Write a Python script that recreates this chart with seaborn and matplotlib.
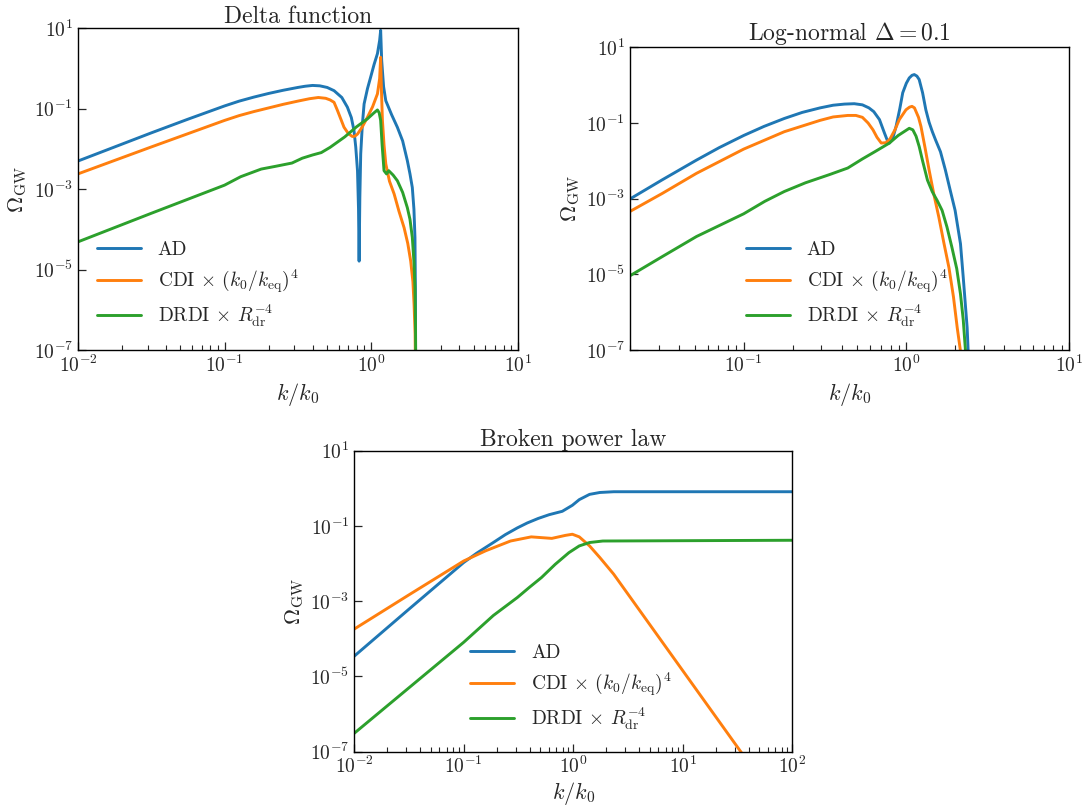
import numpy as np
import matplotlib
matplotlib.use("Agg")
import matplotlib.pyplot as plt
import matplotlib.ticker as mticker
import seaborn as sns

sns.set_style("ticks")
plt.rcParams["font.family"] = ["serif"]
plt.rcParams["font.serif"] = ["cmr10", "DejaVu Serif"]
plt.rcParams["mathtext.fontset"] = "cm"
plt.rcParams["axes.formatter.use_mathtext"] = True
plt.rcParams["axes.unicode_minus"] = False
FS_TICK = 14
FS_LEG = 14
FS_LAB = 16
FS_TITLE = 17

# ---------------- data (log10 k/k0, log10 Omega_GW) ----------------
titles = ["Delta function", r"Log-normal $\Delta = 0.1$", "Broken power law"]
labels = ["AD", r"CDI $\times$ $(k_0/k_{\rm eq})^4$", r"DRDI $\times$ $R_{\rm dr}^{-4}$"]
colors = ["#1f77b4", "#ff7f0e", "#2ca02c"]

# Delta function
delta_ad_logk = [-2.0, -1.75, -1.5, -1.25, -1.0, -0.9, -0.8, -0.7, -0.6, -0.5, -0.45, -0.40, -0.35,
                 -0.30, -0.253, -0.20, -0.162, -0.135, -0.117, -0.105, -0.093, -0.086, -0.082,
                 -0.077, -0.071, -0.06, -0.048, -0.025, -0.003, 0.02, 0.043, 0.058, 0.065, 0.072,
                 0.085, 0.10, 0.14, 0.179, 0.215, 0.247, 0.265, 0.281, 0.292, 0.299, 0.302, 0.304]
delta_ad_logo = [-2.30, -1.95, -1.60, -1.26, -0.93, -0.81, -0.71, -0.62, -0.54, -0.47, -0.44, -0.42,
                 -0.43, -0.47, -0.55, -0.72, -0.96, -1.22, -1.54, -1.95, -2.54, -3.5, -4.79,
                 -3.2, -2.12, -1.4, -0.88, -0.50, -0.21, 0.10, 0.37, 0.70, 0.95, 0.20,
                 -0.45, -0.80, -1.15, -1.46, -1.80, -2.29, -2.62, -2.96, -3.5, -4.2, -5.5, -8.0]
delta_cdi_logk = [-2.0, -1.5, -1.0, -0.9, -0.8, -0.7, -0.6, -0.5, -0.42, -0.36, -0.31, -0.28,
                  -0.253, -0.23, -0.185, -0.155, -0.128, -0.11, -0.093, -0.06, -0.025, 0.01, 0.043,
                  0.058, 0.065, 0.07, 0.077, 0.088, 0.10, 0.125, 0.157, 0.19, 0.225, 0.25, 0.27,
                  0.285, 0.293, 0.30, 0.304]
delta_cdi_logo = [-2.62, -1.95, -1.29, -1.17, -1.07, -0.98, -0.89, -0.81, -0.75, -0.72, -0.74, -0.78,
                  -0.84, -1.04, -1.46, -1.62, -1.69, -1.68, -1.63, -1.45, -1.21, -0.95, -0.63,
                  -0.25, 0.28, -0.5, -1.29, -1.9, -2.37, -2.80, -3.12, -3.55, -3.96, -4.35, -4.79,
                  -5.3, -5.87, -6.6, -8.0]
delta_drdi_logk = [-2.0, -1.5, -1.0, -0.89, -0.75, -0.65, -0.54, -0.47, -0.40, -0.34, -0.28, -0.18,
                   -0.10, -0.025, 0.02, 0.043, 0.055, 0.065, 0.075, 0.088, 0.105, 0.12, 0.15,
                   0.179, 0.215, 0.247, 0.265, 0.281, 0.292, 0.299, 0.303, 0.305]
delta_drdi_logo = [-4.31, -3.60, -2.90, -2.69, -2.50, -2.43, -2.35, -2.23, -2.15, -2.09, -1.96, -1.70,
                   -1.45, -1.25, -1.10, -1.03, -1.10, -1.29, -1.9, -2.54, -2.62, -2.54, -2.65,
                   -2.79, -3.08, -3.46, -3.75, -4.2, -4.8, -5.45, -6.5, -8.0]

# Log-normal
logn_ad_logk = [-1.70, -1.50, -1.29, -1.15, -1.0, -0.875, -0.75, -0.64, -0.53, -0.45, -0.38, -0.32,
                -0.27, -0.23, -0.20, -0.165, -0.134, -0.115, -0.104, -0.083, -0.063, -0.04, -0.022,
                0.0, 0.018, 0.035, 0.049, 0.065, 0.079, 0.10, 0.12, 0.14, 0.16, 0.18, 0.21, 0.24,
                0.27, 0.30, 0.333, 0.35, 0.374, 0.39]
logn_ad_logo = [-3.01, -2.50, -1.98, -1.65, -1.33, -1.09, -0.88, -0.72, -0.60, -0.53, -0.50, -0.49,
                -0.52, -0.60, -0.70, -0.91, -1.27, -1.48, -1.53, -1.40, -1.09, -0.62, -0.20,
                0.05, 0.19, 0.26, 0.28, 0.24, 0.15, -0.2, -0.65, -0.98, -1.23, -1.45, -1.76, -2.24,
                -2.78, -3.31, -4.19, -5.08, -6.41, -8.0]
logn_cdi_logk = [-1.70, -1.50, -1.29, -1.0, -0.75, -0.53, -0.45, -0.36, -0.31, -0.27, -0.235,
                 -0.205, -0.18, -0.154, -0.125, -0.10, -0.07, -0.043, -0.002, 0.02, 0.035, 0.05,
                 0.075, 0.09, 0.115, 0.14, 0.17, 0.20, 0.23, 0.262, 0.29, 0.313, 0.333, 0.34]
logn_cdi_logo = [-3.34, -2.86, -2.33, -1.69, -1.23, -0.93, -0.84, -0.80, -0.80, -0.85, -1.0,
                 -1.18, -1.38, -1.53, -1.52, -1.42, -1.18, -0.91, -0.65, -0.58, -0.56, -0.60,
                 -0.85, -1.09, -1.65, -2.24, -2.9, -3.49, -4.15, -4.82, -5.6, -6.41, -7.03, -8.0]
logn_drdi_logk = [-1.70, -1.50, -1.29, -1.0, -0.87, -0.75, -0.62, -0.47, -0.36, -0.27, -0.19,
                  -0.104, -0.05, 0.018, 0.04, 0.06, 0.079, 0.10, 0.13, 0.16, 0.19, 0.22, 0.25,
                  0.28, 0.31, 0.333, 0.35, 0.364, 0.37]
logn_drdi_logo = [-5.04, -4.53, -4.00, -3.40, -3.07, -2.81, -2.58, -2.36, -2.19, -1.95, -1.75,
                  -1.53, -1.33, -1.14, -1.18, -1.35, -1.62, -2.0, -2.51, -2.82, -3.05, -3.31, -3.75,
                  -4.28, -4.85, -5.52, -6.2, -7.03, -8.0]

# Broken power law
bpl_ad_logk = [-2.0, -1.5, -1.0, -0.88, -0.73, -0.62, -0.51, -0.42, -0.32, -0.22, -0.10, -0.008,
               0.055, 0.149, 0.243, 0.37, 2.0]
bpl_ad_logo = [-4.46, -3.21, -1.97, -1.72, -1.44, -1.23, -1.05, -0.92, -0.80, -0.70, -0.61, -0.45,
               -0.30, -0.16, -0.11, -0.09, -0.09]
bpl_cdi_logk = [-2.0, -1.5, -1.0, -0.8, -0.573, -0.384, -0.196, -0.071, -0.008, 0.055, 0.149, 0.243,
                0.369, 1.53, 1.60]
bpl_cdi_logo = [-3.74, -2.83, -1.93, -1.66, -1.40, -1.29, -1.33, -1.25, -1.22, -1.29, -1.53, -1.84,
                -2.28, -7.0, -7.3]
bpl_drdi_logk = [-2.0, -1.5, -1.0, -0.73, -0.51, -0.40, -0.29, -0.165, -0.04, 0.055, 0.149, 0.27, 2.0]
bpl_drdi_logo = [-6.51, -5.30, -4.09, -3.38, -2.90, -2.63, -2.37, -2.02, -1.71, -1.53, -1.44, -1.40, -1.38]

panels = [
    [(delta_ad_logk, delta_ad_logo), (delta_cdi_logk, delta_cdi_logo), (delta_drdi_logk, delta_drdi_logo)],
    [(logn_ad_logk, logn_ad_logo), (logn_cdi_logk, logn_cdi_logo), (logn_drdi_logk, logn_drdi_logo)],
    [(bpl_ad_logk, bpl_ad_logo), (bpl_cdi_logk, bpl_cdi_logo), (bpl_drdi_logk, bpl_drdi_logo)],
]
xlims = [(1e-2, 1e1), (2e-2, 1e1), (1e-2, 1e2)]
legend_anchor = [(0.0255, 0.042), (0.247, 0.045), (0.247, 0.041)]
xlabelpads = [4, 4, 2]

fig = plt.figure(figsize=(10.89, 8.05), dpi=100)
rects = [[0.0716, 0.5652, 0.4038, 0.3996],
         [0.5785, 0.5652, 0.4031, 0.3760],
         [0.3253, 0.0662, 0.4022, 0.3739]]

for i, rect in enumerate(rects):
    ax = fig.add_axes(rect)
    ax.set_xscale("log")
    ax.set_yscale("log")
    for (lk, lo), c, lab in zip(panels[i], colors, labels):
        sns.lineplot(x=10 ** np.array(lk), y=10 ** np.array(lo), ax=ax, color=c,
                     linewidth=2.1, label=lab, sort=False)
    ax.set_xlim(*xlims[i])
    ax.set_ylim(1e-7, 1e1)
    ax.yaxis.set_major_locator(mticker.FixedLocator([1e1, 1e-1, 1e-3, 1e-5, 1e-7]))
    ax.yaxis.set_minor_locator(mticker.NullLocator())
    ax.xaxis.set_major_locator(mticker.LogLocator(base=10, numticks=20))
    ax.xaxis.set_minor_locator(mticker.LogLocator(base=10, subs=np.arange(2, 10), numticks=100))
    ax.xaxis.set_minor_formatter(mticker.NullFormatter())
    ax.tick_params(which="both", direction="in", labelsize=FS_TICK, top=False, right=False)
    ax.tick_params(axis="x", which="both", pad=3)
    ax.tick_params(axis="y", which="both", pad=3.5)
    ax.tick_params(which="major", length=6, width=0.9)
    ax.tick_params(which="minor", length=3.5, width=0.8)
    for s in ax.spines.values():
        s.set_linewidth(1.0)
        s.set_color("black")
    ax.set_xlabel(r"$k/k_0$", fontsize=FS_LAB, labelpad=xlabelpads[i])
    ax.set_ylabel(r"$\Omega_{\rm GW}$", fontsize=FS_LAB, labelpad=3)
    ax.set_title(titles[i], fontsize=FS_TITLE, pad=2.5)
    ax.legend(loc="lower left", bbox_to_anchor=legend_anchor[i], borderaxespad=0,
              frameon=False, fontsize=FS_LEG, handlelength=2.27, labelspacing=0.4,
              handletextpad=0.85)

fig.savefig("out.png", dpi=100)
